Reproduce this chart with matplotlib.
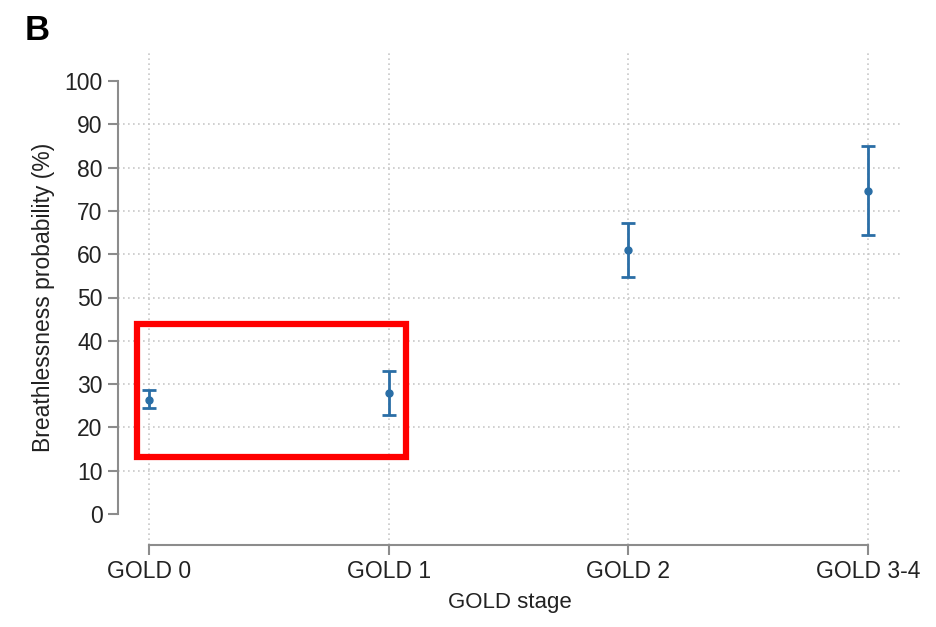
import numpy as np
import matplotlib.pyplot as plt
import matplotlib.patches as patches

# predicted breathlessness probability by GOLD stage, with 95% CI
stages = ["GOLD 0", "GOLD 1", "GOLD 2", "GOLD 3-4"]
prob = [26.3, 27.9, 61.0, 74.6]
ci_low = [24.5, 22.9, 54.7, 64.4]
ci_high = [28.6, 33.0, 67.2, 85.1]

plt.rcParams['font.family'] = ['Liberation Sans', 'DejaVu Sans']

blue = "#2a6ea6"
axis_grey = "#8c8c8c"
grid_grey = "#c8c8c8"

fig = plt.figure(figsize=(9.36, 6.27), dpi=100)
ax = fig.add_axes([118 / 936, 82 / 627, 784 / 936, 495 / 627])

x = np.arange(len(stages))
prob = np.asarray(prob)
yerr = np.vstack([prob - np.asarray(ci_low), np.asarray(ci_high) - prob])
ax.errorbar(x, prob, yerr=yerr, fmt='o', color=blue, ecolor=blue,
            markersize=5, elinewidth=2, capsize=5, capthick=2, zorder=3)

# dotted grid: verticals at every stage, horizontals only inside 10..90
for xi in x:
    ax.axvline(xi, color=grid_grey, linestyle=(0, (1, 2)), linewidth=1.2, zorder=0)
for yv in range(10, 100, 10):
    ax.axhline(yv, color=grid_grey, linestyle=(0, (1, 2)), linewidth=1.2, zorder=0)

ax.set_xlim(-0.129, 3.141)
ax.set_ylim(-7.2, 107.2)
ax.set_xticks(x)
ax.set_xticklabels(stages)
ax.set_yticks(range(0, 101, 10))

for side in ("top", "right"):
    ax.spines[side].set_visible(False)
ax.spines["left"].set_bounds(0, 100)
ax.spines["bottom"].set_bounds(0, 3)
for side in ("left", "bottom"):
    ax.spines[side].set_color(axis_grey)
    ax.spines[side].set_linewidth(1.5)
ax.tick_params(axis="both", colors=axis_grey, length=7, width=1.5,
               labelsize=16.5, labelcolor="#222222", pad=4)

ax.set_xlabel("GOLD stage", fontsize=16, color="#222222", labelpad=6)
ax.set_ylabel("Breathlessness probability (%)", fontsize=16.5, color="#222222", labelpad=7)

# highlight box around the GOLD 0 / GOLD 1 estimates
rect = patches.Rectangle((-0.05, 13.2), 1.122, 30.7, linewidth=4.5,
                         edgecolor="#ff0000", facecolor="none", zorder=4,
                         clip_on=False)
ax.add_patch(rect)

fig.text(25 / 936, 1 - 40 / 627, "B", fontsize=25, fontweight="bold", color="black")

fig.savefig("out.png", dpi=100)
